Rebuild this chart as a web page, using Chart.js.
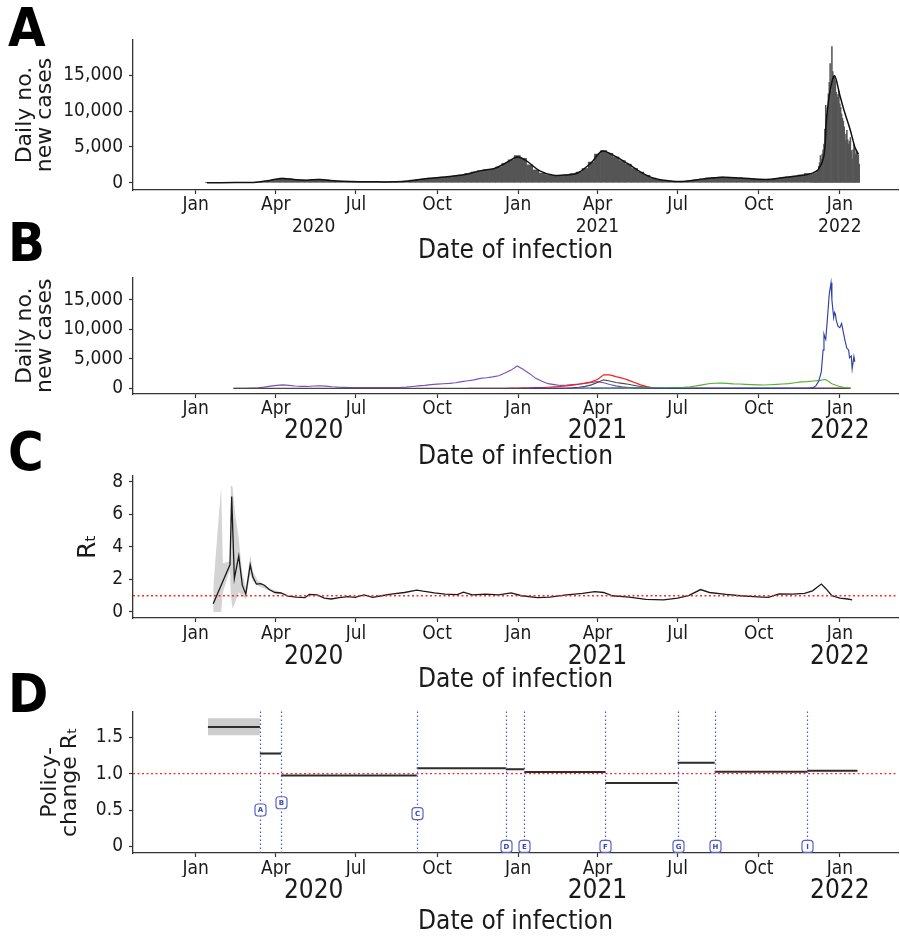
<!DOCTYPE html>
<html><head><meta charset="utf-8">
<script src="https://cdn.jsdelivr.net/npm/chart.js@4.4.1/dist/chart.umd.min.js"></script>
<style>
html,body{margin:0;padding:0;background:#fff;}
#wrap{position:relative;width:900px;height:937px;overflow:hidden;background:#fff;}
canvas{position:absolute;left:0;}
.lbl{position:absolute;left:8px;font-family:'Liberation Sans Narrow','DejaVu Sans Condensed',sans-serif;font-weight:bold;font-size:54px;line-height:54px;color:#000;}
</style></head><body>
<div id="wrap">
<canvas id="cA" width="900" height="268" style="top:0px"></canvas>
<canvas id="cB" width="900" height="214" style="top:262px"></canvas>
<canvas id="cC" width="900" height="239" style="top:460px"></canvas>
<canvas id="cD" width="900" height="241" style="top:696px"></canvas>
<div class="lbl" style="top:1px">A</div>
<div class="lbl" style="top:216px">B</div>
<div class="lbl" style="top:425px">C</div>
<div class="lbl" style="top:667px">D</div>
</div>
<script>
// ---------------- DATA ----------------
const monthTickDates = ["2020-01-01","2020-04-01","2020-07-01","2020-10-01","2021-01-01","2021-04-01","2021-07-01","2021-10-01","2022-01-01"];
const monthTickLabels = ["Jan","Apr","Jul","Oct","Jan","Apr","Jul","Oct","Jan"];
const yearLabelDates = ["2020-05-14","2021-04-01","2022-01-01"];
const yearLabels = ["2020","2021","2022"];
const xTitle = "Date of infection";

// weekly categories (week centres)
const weekDates = [
"2020-01-16","2020-01-23","2020-01-30","2020-02-06","2020-02-13","2020-02-20","2020-02-27",
"2020-03-05","2020-03-12","2020-03-19","2020-03-26","2020-04-02","2020-04-09","2020-04-16","2020-04-23","2020-04-30",
"2020-05-07","2020-05-14","2020-05-21","2020-05-28","2020-06-04","2020-06-11","2020-06-18","2020-06-25",
"2020-07-02","2020-07-09","2020-07-16","2020-07-23","2020-07-30","2020-08-06","2020-08-13","2020-08-20","2020-08-27",
"2020-09-03","2020-09-10","2020-09-17","2020-09-24","2020-10-01","2020-10-08","2020-10-15","2020-10-22","2020-10-29",
"2020-11-05","2020-11-12","2020-11-19","2020-11-26","2020-12-03","2020-12-10","2020-12-17","2020-12-24","2020-12-31",
"2021-01-07","2021-01-14","2021-01-21","2021-01-28","2021-02-04","2021-02-11","2021-02-18","2021-02-25",
"2021-03-04","2021-03-11","2021-03-18","2021-03-25","2021-04-01","2021-04-08","2021-04-15","2021-04-22","2021-04-29",
"2021-05-06","2021-05-13","2021-05-20","2021-05-27","2021-06-03","2021-06-10","2021-06-17","2021-06-24",
"2021-07-01","2021-07-08","2021-07-15","2021-07-22","2021-07-29","2021-08-05","2021-08-12","2021-08-19","2021-08-26",
"2021-09-02","2021-09-09","2021-09-16","2021-09-23","2021-09-30","2021-10-07","2021-10-14","2021-10-21","2021-10-28",
"2021-11-04","2021-11-11","2021-11-18","2021-11-25","2021-12-02","2021-12-09","2021-12-16","2021-12-23","2021-12-30",
"2022-01-06","2022-01-13"];

// Panel A: weekly mean daily cases (through week of 2021-11-25)
const casesWeekly = [
20,20,20,20,30,30,40, 60,100,200,350, 480,650,560,420,360, 360,420,500,420, 300,230,190,170,
160,150,140,140,140, 140,150,170,230, 370,460,560,660, 720,790,870,960,1100, 1300,1500,1700,1820, 1900,2200,2700,3200,3800,
3400,2500,1800,1350, 1150,1000,1000,1100, 1250,1500,2000,2900, 4000,4500,4100,3600,3100, 2600,2000,1500,1050,
650,400,280,220, 200,220,280,400,550, 680,760,800,780, 730,680,620,560,500, 470,500,620,720, 830,930,1100,1300];

// Panel A: daily cases from 2021-11-29
const dailyDates = ["2021-11-29","2021-11-30",
"2021-12-01","2021-12-02","2021-12-03","2021-12-04","2021-12-05","2021-12-06","2021-12-07","2021-12-08","2021-12-09","2021-12-10",
"2021-12-11","2021-12-12","2021-12-13","2021-12-14","2021-12-15","2021-12-16","2021-12-17","2021-12-18","2021-12-19","2021-12-20",
"2021-12-21","2021-12-22","2021-12-23","2021-12-24","2021-12-25","2021-12-26","2021-12-27","2021-12-28","2021-12-29","2021-12-30","2021-12-31",
"2022-01-01","2022-01-02","2022-01-03","2022-01-04","2022-01-05","2022-01-06","2022-01-07","2022-01-08","2022-01-09","2022-01-10",
"2022-01-11","2022-01-12","2022-01-13","2022-01-14","2022-01-15","2022-01-16","2022-01-17","2022-01-18","2022-01-19","2022-01-20",
"2022-01-21","2022-01-22","2022-01-23"];
const casesDaily = [1100,1200,
1150,1300,1250,1400,1350,1500,1700,2300,2800,3800,
3300,4000,4600,5400,7500,10800,9600,10500,12400,14000,
16600,12800,19000,15500,14700,14900,14200,12600,11900,12300,12800,
11000,10500,9600,9000,8600,7800,5900,6800,7300,6000,
5400,5800,6300,4500,3300,4600,5400,4800,4000,4300,
4200,3900,2600];

// Panel A: smoothed trend
const trendDates = ["2020-01-14","2020-02-15","2020-03-10","2020-03-25","2020-04-08","2020-04-22","2020-05-06","2020-05-20","2020-06-05","2020-06-25",
"2020-07-20","2020-08-15","2020-09-01","2020-09-20","2020-10-10","2020-10-31","2020-11-20","2020-12-05","2020-12-20","2020-12-31",
"2021-01-10","2021-01-25","2021-02-10","2021-02-25","2021-03-10","2021-03-25","2021-04-06","2021-04-18","2021-05-05","2021-05-20",
"2021-06-05","2021-06-25","2021-07-10","2021-07-30","2021-08-20","2021-09-10","2021-10-01","2021-10-15","2021-11-01","2021-11-20",
"2021-12-01","2021-12-08","2021-12-14","2021-12-17","2021-12-21","2021-12-26","2022-01-01","2022-01-06","2022-01-13","2022-01-18","2022-01-22"];
const trendValues = [10,30,90,340,600,450,370,460,300,180,
140,150,300,600,820,1120,1700,2000,2900,3600,
3100,1700,1050,1100,1400,2800,4400,3900,2700,1500,
600,230,220,550,790,680,500,500,780,1050,
1350,1900,3800,9000,12900,14900,12200,10000,7300,5000,4000];

// Panel B: weekly variant-specific cases (aligned with weekDates)
const N = null;
const purpleCases = [N,N,N,N,0,10,20, 50,100,220,380, 520,600,520,400,340, 330,400,450,380, 280,210,170,150,
140,130,130,130,130, 130,140,160,220, 320,420,520,650, 720,780,850,950,1150, 1300,1450,1700,1800, 1950,2150,2600,3100,3800,
3200,2500,1700,1200, 800,650,500,550, 650,750,850,1000, 1150,950,650,420,250, 150,90,50,30,
10,0,0,0, 0,0,0,0,0, 0,0,0,0, 0,0,0,0,0, 0,0,0,0, 0,0,0,0, 0,0,0,0,0, 0,0];
const redCases = [N,N,N,N,N,N,N, N,N,N,N, N,N,N,N,N, N,N,N,N, N,N,N,N,
N,N,N,N,N, N,N,N,N, N,N,N,N, N,N,N,N,N, 0,5,10,15, 20,25,30,40,60,
80,100,130,160, 200,260,330,420, 550,700,900,1100, 1500,2300,2300,2000,1750, 1400,1000,600,300,
80,10,0,0, 0,0,0,0,0, 0,0,0,0, 0,0,0,0,0, 0,0,0,0, 0,0,0,0, 0,0,0,0,0, 0,0];
const grayCases = [N,N,N,N,0,0,0, 0,0,0,0, 0,0,0,0,0, 0,0,0,0, 0,0,0,0,
0,0,0,0,0, 0,0,0,0, 0,0,0,0, 0,0,0,0,0, 0,0,0,0, 0,0,0,0,0,
0,0,0,0, 0,0,0,30, 80,200,350,600, 1000,1450,1250,1000,850, 700,500,320,180,
80,30,10,0, 0,0,0,0,0, 0,0,0,0, 0,0,0,0,0, 0,0,0,0, 0,0,0,0, 0,0,0,0,0, 0,0];
const greenCases = [N,N,N,N,N,N,N, N,N,N,N, N,N,N,N,N, N,N,N,N, N,N,N,N,
N,N,N,N,N, N,N,N,N, N,N,N,N, N,N,N,N,N, N,N,N,N, N,N,N,N,N,
N,N,N,N, N,N,N,N, N,N,N,0, 10,20,30,40,50, 60,70,80,90,
100,100,110,120, 130,180,280,420,600, 780,880,900,850, 760,740,680,640,600, 580,620,680,740, 820,950,1100,1160, 1260,1350,1500,800,400, 150,60];
const blueDates = ["2021-01-14","2021-02-11","2021-03-11","2021-04-08","2021-05-06","2021-06-03","2021-07-01","2021-11-25",
"2021-12-02","2021-12-05","2021-12-08","2021-12-11","2021-12-13","2021-12-14","2021-12-15","2021-12-16","2021-12-18","2021-12-20",
"2021-12-22","2021-12-23","2021-12-24","2021-12-25","2021-12-26","2021-12-27","2021-12-28","2021-12-30","2022-01-01","2022-01-03",
"2022-01-05","2022-01-07","2022-01-09","2022-01-11","2022-01-12","2022-01-14","2022-01-15","2022-01-17","2022-01-18"];
const blueCases = [0,20,40,70,60,30,0,0,
150,470,1200,2800,6500,9200,8700,8300,12000,16000,
17900,15000,13500,12000,12900,12600,11500,10500,10300,11000,
9500,8000,6800,6500,5200,5500,3300,5400,4500];

// Panel C: effective reproduction number
const rtDates = ["2020-01-21","2020-02-09","2020-02-11","2020-02-14","2020-02-19","2020-02-23","2020-02-27","2020-03-03","2020-03-06","2020-03-10",
"2020-03-15","2020-03-19","2020-03-25","2020-03-31","2020-04-07","2020-04-15","2020-04-24","2020-05-04","2020-05-09","2020-05-18",
"2020-05-26","2020-06-03","2020-06-12","2020-06-22","2020-06-30","2020-07-10","2020-07-20","2020-07-30","2020-08-10","2020-08-25",
"2020-09-08","2020-09-15","2020-09-28","2020-10-10","2020-10-24","2020-10-31","2020-11-10","2020-11-25","2020-12-10","2020-12-24",
"2021-01-05","2021-01-23","2021-02-06","2021-02-25","2021-03-15","2021-03-29","2021-04-08","2021-04-18","2021-05-07","2021-05-26",
"2021-06-15","2021-07-01","2021-07-14","2021-07-27","2021-08-06","2021-08-25","2021-09-10","2021-09-30","2021-10-12","2021-10-24",
"2021-11-08","2021-11-22","2021-12-01","2021-12-11","2021-12-16","2021-12-23","2022-01-01","2022-01-10","2022-01-15"];
const rtValues = [0.5,2.9,7.1,2.05,3.45,1.65,1.1,2.9,2.15,1.72,
1.75,1.65,1.37,1.2,1.17,0.98,0.92,0.88,1.08,1.05,
0.85,0.8,0.88,0.95,0.9,1.05,0.9,1.0,1.1,1.2,
1.35,1.28,1.17,1.1,1.07,1.22,1.05,1.1,1.05,1.18,
1.0,0.88,0.92,1.05,1.15,1.25,1.2,1.0,0.92,0.78,
0.75,0.85,1.02,1.38,1.2,1.08,1.0,0.93,0.9,1.12,
1.1,1.15,1.3,1.72,1.45,1.0,0.85,0.8,0.75];
const rtBandDates = ["2020-01-21","2020-01-30","2020-02-01","2020-02-09","2020-02-10","2020-02-12","2020-02-15","2020-02-19","2020-02-23","2020-02-27",
"2020-03-03","2020-03-06","2020-03-12","2020-03-25","2020-04-07"];
const rtLower = [0.0,0.0,1.2,2.6,1.0,0.2,0.6,1.2,1.0,0.8,2.3,1.9,1.6,1.3,1.12];
const rtUpper = [1.5,7.7,3.0,3.1,7.8,7.7,6.0,4.5,2.4,1.5,3.5,2.5,1.9,1.45,1.22];
const rThreshold = 1;

// Panel D: policy-change Rt
const policyStart = "2020-01-15";
const policyEnd = "2022-01-21";
const policyDates = ["2020-03-14","2020-04-07","2020-09-08","2020-12-18","2021-01-08","2021-04-10","2021-07-01","2021-08-12","2021-11-25"];
const policyLetters = ["A","B","C","D","E","F","G","H","I"];
const policyLabelY = [0.5,0.6,0.45,0,0,0,0,0,0];
const policyR  = [1.641,1.275,0.975,1.074,1.061,1.022,0.871,1.149,1.027,1.040];
const policyLo = [1.527,1.262,0.968,1.068,1.052,1.016,0.864,1.140,1.021,1.030];
const policyHi = [1.762,1.288,0.982,1.080,1.070,1.028,0.878,1.158,1.033,1.050];

// ---------------- HELPERS ----------------
const DAY0 = Date.UTC(2020,0,1);
function toDay(s){ const p=s.split('-').map(Number); return (Date.UTC(p[0],p[1]-1,p[2])-DAY0)/86400000; }
const X_MIN = -71, X_MAX = 797;
const PLOT_LEFT = 133, PLOT_RIGHT = 898;
const PX_PER_DAY = (PLOT_RIGHT-PLOT_LEFT)/(X_MAX-X_MIN);
const FN = "'Liberation Sans Narrow','DejaVu Sans Condensed','Arial Narrow',sans-serif";
const FW = "'DejaVu Sans',Verdana,sans-serif";
const TXT = '#1a1a1a', AX = '#333333';

function pts(dates, vals){ return vals.map((v,i)=>({x:toDay(dates[i]), y:v})); }

function makeScales(p){
  return {
    x: {
      type:'linear', position:'bottom', weight:0, min:X_MIN, max:X_MAX, offset:false,
      afterBuildTicks: s => { s.ticks = monthTickDates.map(d=>({value:toDay(d)})); },
      afterFit: s => { s.height = p.xH; },
      ticks:{autoSkip:false, maxRotation:0, minRotation:0, padding:p.monthPad, color:TXT,
        font:{family:FN, size:19, lineHeight:1}, callback:(v,i)=>monthTickLabels[i]},
      grid:{display:true, drawOnChartArea:false, drawTicks:true, tickLength:4, tickColor:AX, tickWidth:1.2, offset:false},
      border:{display:true, color:AX, width:1.3}
    },
    xYear: {
      type:'linear', position:'bottom', weight:1, min:X_MIN, max:X_MAX, offset:false,
      afterBuildTicks: s => { s.ticks = yearLabelDates.map(d=>({value:toDay(d)})); },
      afterFit: s => { s.height = p.H - p.plotBottom - p.xH; },
      ticks:{autoSkip:false, maxRotation:0, minRotation:0, padding:p.yearPad, color:TXT,
        font:{family:FN, size:p.yearSize, lineHeight:1}, callback:(v,i)=>yearLabels[i]},
      grid:{display:false, drawOnChartArea:false, drawTicks:false, tickLength:0, offset:false},
      border:{display:false},
      title:{display:true, text:xTitle, color:TXT, font:{family:FN, size:26, lineHeight:1}, padding:{top:0, bottom:p.titlePad}}
    },
    y: {
      type:'linear', position:'left', min:p.yMin, max:p.yMax,
      afterBuildTicks: s => { s.ticks = p.yTicks.map(v=>({value:v})); },
      afterFit: s => { s.width = PLOT_LEFT; },
      ticks:{autoSkip:false, padding:6, color:TXT, font:{family:FN, size:19, lineHeight:1}, callback:(v,i)=>p.yTickLabels[i]},
      grid:{display:true, drawOnChartArea:false, drawTicks:true, tickLength:4, tickColor:AX, tickWidth:1.2},
      border:{display:true, color:AX, width:1.3},
      title:{display:true, text:p.yTitle, color:TXT, font:{family:FW, size:p.yTitleSize, lineHeight:p.yTitleLH}, padding:{top:p.yTitlePad, bottom:0}}
    }
  };
}

function baseOptions(p){
  return {
    responsive:false, animation:false, devicePixelRatio:1,
    layout:{padding:{top:p.plotTop, left:0, right:900-PLOT_RIGHT, bottom:0}},
    plugins:{legend:{display:false}, tooltip:{enabled:false}},
    scales: makeScales(p),
    elements:{point:{radius:0}, line:{tension:0}}
  };
}

const refLinePlugin = {
  id:'refLine',
  afterDatasetsDraw(chart, args, opts){
    if (opts.value === undefined || opts.value === null) return;
    const y = chart.scales.y.getPixelForValue(opts.value);
    const {left, right} = chart.chartArea, ctx = chart.ctx;
    ctx.save(); ctx.strokeStyle = opts.color || 'red'; ctx.lineWidth = 1.3; ctx.setLineDash([2,2.5]);
    ctx.beginPath(); ctx.moveTo(left, y); ctx.lineTo(right, y); ctx.stroke(); ctx.restore();
  }
};

const policyPlugin = {
  id:'policyMarks',
  afterDatasetsDraw(chart){
    const xs = chart.scales.x, ys = chart.scales.y, ctx = chart.ctx;
    const {top, bottom} = chart.chartArea;
    ctx.save();
    ctx.strokeStyle = '#4b56c8'; ctx.lineWidth = 1.2; ctx.setLineDash([1.5,2.5]);
    policyDates.forEach(d => {
      const px = Math.round(xs.getPixelForValue(toDay(d))) + 0.5;
      ctx.beginPath(); ctx.moveTo(px, top); ctx.lineTo(px, bottom); ctx.stroke();
    });
    ctx.setLineDash([]);
    policyLetters.forEach((L,i) => {
      const px = Math.round(xs.getPixelForValue(toDay(policyDates[i]))) + 0.5;
      const py = ys.getPixelForValue(policyLabelY[i]);
      const w = 11, h = 12, r = 3, x0 = px - w/2, y0 = py - h/2;
      ctx.beginPath();
      ctx.moveTo(x0+r, y0); ctx.lineTo(x0+w-r, y0); ctx.quadraticCurveTo(x0+w, y0, x0+w, y0+r);
      ctx.lineTo(x0+w, y0+h-r); ctx.quadraticCurveTo(x0+w, y0+h, x0+w-r, y0+h);
      ctx.lineTo(x0+r, y0+h); ctx.quadraticCurveTo(x0, y0+h, x0, y0+h-r);
      ctx.lineTo(x0, y0+r); ctx.quadraticCurveTo(x0, y0, x0+r, y0); ctx.closePath();
      ctx.fillStyle = '#ffffff'; ctx.fill();
      ctx.strokeStyle = '#5a64c8'; ctx.lineWidth = 1.2; ctx.stroke();
      ctx.fillStyle = '#3b46b0'; ctx.font = "bold 7px 'DejaVu Sans',sans-serif";
      ctx.textAlign = 'center'; ctx.textBaseline = 'middle';
      ctx.fillText(L, px, py + 0.5);
    });
    ctx.restore();
  }
};

// ---------------- PANEL A ----------------
const pA = {H:268, plotTop:40, plotBottom:190, xH:24, monthPad:1.5, yearPad:4, yearSize:19, titlePad:4,
  yMin:-1000, yMax:19900, yTicks:[0,5000,10000,15000], yTickLabels:["0","5,000","10,000","15,000"],
  yTitle:["Daily no.","new cases"], yTitleSize:22, yTitleLH:0.92, yTitlePad:15};
new Chart(document.getElementById('cA'), {
  type:'bar',
  data:{datasets:[
    {type:'bar', data:pts(weekDates.slice(0,casesWeekly.length), casesWeekly), backgroundColor:'#555555',
     barThickness:7*PX_PER_DAY, grouped:false, borderWidth:0, order:2, xAxisID:'x', yAxisID:'y'},
    {type:'bar', data:pts(dailyDates, casesDaily), backgroundColor:'#555555',
     barThickness:PX_PER_DAY, grouped:false, borderWidth:0, order:2, xAxisID:'x', yAxisID:'y'},
    {type:'line', data:pts(trendDates, trendValues), borderColor:'#111111', borderWidth:1.5,
     pointRadius:0, tension:0.35, fill:false, order:1, xAxisID:'x', yAxisID:'y'}
  ]},
  options: baseOptions(pA)
});

// ---------------- PANEL B ----------------
const pB = {H:214, plotTop:7, plotBottom:132, xH:24, monthPad:1.5, yearPad:0, yearSize:26, titlePad:6,
  yMin:-950, yMax:18800, yTicks:[0,5000,10000,15000], yTickLabels:["0","5,000","10,000","15,000"],
  yTitle:["Daily no.","new cases"], yTitleSize:22, yTitleLH:0.92, yTitlePad:15};
function lineDs(data, color, order){ return {data, borderColor:color, borderWidth:1.15, pointRadius:0, fill:false, order, xAxisID:'x', yAxisID:'y'}; }
new Chart(document.getElementById('cB'), {
  type:'line',
  data:{datasets:[
    lineDs(pts(weekDates, purpleCases), '#7b52b0', 4),
    lineDs(pts(weekDates, redCases), '#ff1a1a', 3),
    lineDs(pts(weekDates, grayCases), '#4a4a4a', 2),
    lineDs(pts(weekDates, greenCases), '#55b332', 1),
    lineDs(pts(blueDates, blueCases), '#2f3fa8', 0)
  ]},
  options: baseOptions(pB)
});

// ---------------- PANEL C ----------------
const pC = {H:239, plotTop:8, plotBottom:158, xH:24, monthPad:2.5, yearPad:2, yearSize:26, titlePad:6,
  yMin:-0.37, yMax:8.4, yTicks:[0,2,4,6,8], yTickLabels:["0","2","4","6","8"],
  yTitle:"R\u209C", yTitleSize:25, yTitleLH:1, yTitlePad:76};
const optC = baseOptions(pC);
optC.plugins.refLine = {value:rThreshold, color:'#ff2a2a'};
new Chart(document.getElementById('cC'), {
  type:'line',
  data:{datasets:[
    {data:pts(rtBandDates, rtLower), borderWidth:0, borderColor:'transparent', pointRadius:0, fill:false, order:3, xAxisID:'x', yAxisID:'y'},
    {data:pts(rtBandDates, rtUpper), borderWidth:0, borderColor:'transparent', pointRadius:0, fill:'-1', backgroundColor:'#d4d4d4', order:3, xAxisID:'x', yAxisID:'y'},
    {data:pts(rtDates, rtValues), borderColor:'#1a1a1a', borderWidth:1.3, pointRadius:0, fill:false, order:1, xAxisID:'x', yAxisID:'y'}
  ]},
  options: optC,
  plugins:[refLinePlugin]
});

// ---------------- PANEL D ----------------
const pD = {H:241, plotTop:8, plotBottom:157, xH:24, monthPad:2.5, yearPad:1, yearSize:26, titlePad:2,
  yMin:-0.091, yMax:1.854, yTicks:[0,0.5,1.0,1.5], yTickLabels:["0","0.5","1.0","1.5"],
  yTitle:["Policy-","change R\u209C"], yTitleSize:22, yTitleLH:0.92, yTitlePad:40};
const bounds = [policyStart].concat(policyDates, [policyEnd]);
const dSets = [];
policyR.forEach((r,i) => {
  const s = toDay(bounds[i]), e = toDay(bounds[i+1]);
  dSets.push({data:[{x:s,y:policyLo[i]},{x:e,y:policyLo[i]}], borderWidth:0, borderColor:'transparent', pointRadius:0, fill:false, order:3, xAxisID:'x', yAxisID:'y'});
  dSets.push({data:[{x:s,y:policyHi[i]},{x:e,y:policyHi[i]}], borderWidth:0, borderColor:'transparent', pointRadius:0, fill:'-1', backgroundColor:'#cdcdcd', order:3, xAxisID:'x', yAxisID:'y'});
});
policyR.forEach((r,i) => {
  const s = toDay(bounds[i]), e = toDay(bounds[i+1]);
  dSets.push({data:[{x:s,y:r},{x:e,y:r}], borderColor:'#2e2e2e', borderWidth:2, pointRadius:0, fill:false, order:1, xAxisID:'x', yAxisID:'y'});
});
const optD = baseOptions(pD);
optD.plugins.refLine = {value:rThreshold, color:'#ff2a2a'};
new Chart(document.getElementById('cD'), {
  type:'line',
  data:{datasets:dSets},
  options: optD,
  plugins:[refLinePlugin, policyPlugin]
});
</script>
</body></html>
